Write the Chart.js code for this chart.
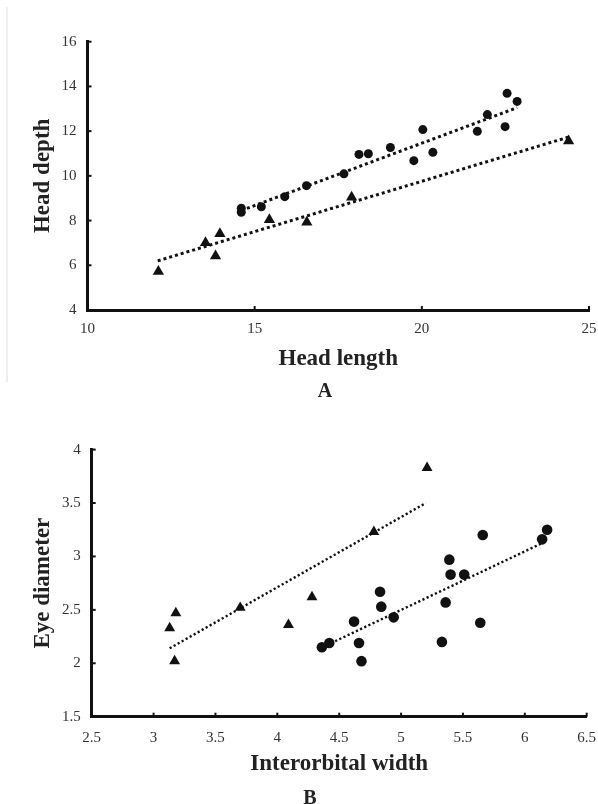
<!DOCTYPE html>
<html>
<head>
<meta charset="utf-8">
<script src="https://cdn.jsdelivr.net/npm/chart.js@4.4.1/dist/chart.umd.min.js"></script>
<style>
  body { margin: 0; background: #fff; }
  #page { position: relative; width: 598px; height: 804px; overflow: hidden; }
  .panel { position: absolute; left: 0; }
  .tag { position: absolute; font: bold 20px "Liberation Serif", serif; color: #222; transform: translate(-50%, -50%); }
  #edge { position: absolute; left: 6px; top: 7px; height: 375px; border-left: 2px solid #eeeeee; }
</style>
</head>
<body>
<div id="page">
  <div id="edge"></div>
  <div class="panel" style="top:0"><canvas id="chartA" width="598" height="400"></canvas></div>
  <div class="panel" style="top:400px"><canvas id="chartB" width="598" height="404"></canvas></div>
  <div class="tag" style="left:325px; top:390px">A</div>
  <div class="tag" style="left:310px; top:797px">B</div>
</div>
<script>
// Panel A: head length vs head depth
const headLenCircle = [14.6, 14.6, 15.2, 15.9, 16.55, 17.67, 18.12, 18.4, 19.06, 19.76, 20.03, 20.33, 21.66, 21.96, 22.49, 22.55, 22.85];
const headDepCircle = [8.55, 8.37, 8.62, 9.07, 9.56, 10.09, 10.96, 10.99, 11.27, 10.68, 12.07, 11.05, 11.99, 12.74, 12.2, 13.69, 13.33];
const headLenTri = [12.12, 13.53, 13.83, 13.96, 15.44, 16.56, 17.9, 24.39];
const headDepTri = [5.72, 7.01, 6.41, 7.41, 8.04, 7.93, 9.04, 11.56];
// trendline ends
const trendACircleX = [14.6, 22.85];
const trendACircleY = [8.45, 13.05];
const trendATriX = [12.1, 24.38];
const trendATriY = [6.2, 11.73];

// Panel B: interorbital width vs eye diameter
const ioWidthTri = [3.13, 3.18, 3.17, 3.70, 4.09, 4.28, 4.78, 5.21];
const eyeDiaTri = [2.33, 2.47, 2.02, 2.52, 2.36, 2.62, 3.23, 3.83];
const ioWidthCircle = [4.36, 4.42, 4.62, 4.66, 4.68, 4.83, 4.84, 4.94, 5.33, 5.36, 5.39, 5.40, 5.51, 5.64, 5.66, 6.14, 6.18];
const eyeDiaCircle = [2.15, 2.19, 2.39, 2.19, 2.02, 2.67, 2.53, 2.43, 2.20, 2.57, 2.97, 2.83, 2.83, 2.38, 3.20, 3.16, 3.25];
const trendBTriX = [3.13, 5.2];
const trendBTriY = [2.14, 3.5];
const trendBCircleX = [4.4, 6.15];
const trendBCircleY = [2.17, 3.13];

const ink = '#111';
const serif = 'Liberation Serif';

function pts(xs, ys) {
    return xs.map((x, i) => ({ x: x, y: ys[i] }));
}

// "3" not "3.0", like the original axis labels
function plainNum(v) {
    return String(+Number(v).toFixed(2));
}

// small inward tick marks like the original plot
const innerTicks = {
    id: 'innerTicks',
    afterDraw(chart) {
        const ctx = chart.ctx;
        const xs = chart.scales.x, ys = chart.scales.y;
        ctx.save();
        ctx.strokeStyle = ink;
        ctx.lineWidth = 2;
        xs.ticks.forEach(t => {
            const px = xs.getPixelForValue(t.value);
            ctx.beginPath();
            ctx.moveTo(px, ys.bottom);
            ctx.lineTo(px, ys.bottom - 4);
            ctx.stroke();
        });
        ys.ticks.forEach(t => {
            const py = ys.getPixelForValue(t.value);
            ctx.beginPath();
            ctx.moveTo(xs.left, py);
            ctx.lineTo(xs.left + 4, py);
            ctx.stroke();
        });
        ctx.restore();
    }
};

function makeChart(id, o) {
    const ctx = document.getElementById(id).getContext('2d');
    return new Chart(ctx, {
        type: 'scatter',
        data: {
            datasets: [
                { data: pts(o.cx, o.cy), pointStyle: 'circle', pointRadius: o.circleR, backgroundColor: ink, borderWidth: 0 },
                { data: pts(o.tx, o.ty), pointStyle: 'triangle', pointRadius: o.triR, backgroundColor: ink, borderWidth: 0 },
                { data: pts(o.lcx, o.lcy), showLine: true, pointRadius: 0, borderColor: ink, borderWidth: o.dotW, borderDash: o.dash },
                { data: pts(o.ltx, o.lty), showLine: true, pointRadius: 0, borderColor: ink, borderWidth: o.dotW, borderDash: o.dash }
            ]
        },
        options: {
            responsive: false,
            devicePixelRatio: 1,
            animation: false,
            layout: { padding: o.pad },
            plugins: { legend: { display: false }, tooltip: { enabled: false } },
            scales: {
                x: {
                    type: 'linear',
                    min: o.xMin, max: o.xMax,
                    grid: { display: false, drawTicks: false },
                    border: { display: true, color: ink, width: 3 },
                    ticks: { stepSize: o.xStep, padding: o.xPad, maxRotation: 0, color: '#333', font: { family: serif, size: 15 }, callback: plainNum },
                    title: { display: true, text: o.xTitle, color: '#222', padding: 0, font: { family: serif, size: 23, weight: 'bold' } },
                    afterFit: (s) => { s.height = o.xH; s.paddingLeft = 0; s.paddingRight = 0; }
                },
                y: {
                    min: o.yMin, max: o.yMax,
                    grid: { display: false, drawTicks: false },
                    border: { display: true, color: ink, width: 3 },
                    ticks: { stepSize: o.yStep, padding: 11, color: '#333', font: { family: serif, size: 15 }, callback: plainNum },
                    title: { display: true, text: o.yTitle, color: '#222', padding: 0, font: { family: serif, size: 23, weight: 'bold' } },
                    afterFit: (s) => { s.width = o.yW; s.paddingTop = 0; s.paddingBottom = 0; }
                }
            }
        },
        plugins: [innerTicks]
    });
}

makeChart('chartA', {
    cx: headLenCircle, cy: headDepCircle, tx: headLenTri, ty: headDepTri,
    lcx: trendACircleX, lcy: trendACircleY, ltx: trendATriX, lty: trendATriY,
    circleR: 4.5, triR: 6.5, dotW: 3, dash: [3, 3],
    xMin: 10, xMax: 25, xStep: 5, yMin: 4, yMax: 16, yStep: 2,
    xTitle: 'Head length', yTitle: 'Head depth',
    pad: { left: 29, top: 41.7, right: 9, bottom: 27.2 },
    xH: 62.8, yW: 58.5, xPad: 10
});

makeChart('chartB', {
    cx: ioWidthCircle, cy: eyeDiaCircle, tx: ioWidthTri, ty: eyeDiaTri,
    lcx: trendBCircleX, lcy: trendBCircleY, ltx: trendBTriX, lty: trendBTriY,
    circleR: 5.3, triR: 6.3, dotW: 2.4, dash: [2.2, 2.4],
    xMin: 2.5, xMax: 6.5, xStep: 0.5, yMin: 1.5, yMax: 4, yStep: 0.5,
    xTitle: 'Interorbital width', yTitle: 'Eye diameter',
    pad: { left: 29, top: 49.6, right: 11.3, bottom: 26.2 },
    xH: 61.1, yW: 62.7, xPad: 12
});
</script>
</body>
</html>
